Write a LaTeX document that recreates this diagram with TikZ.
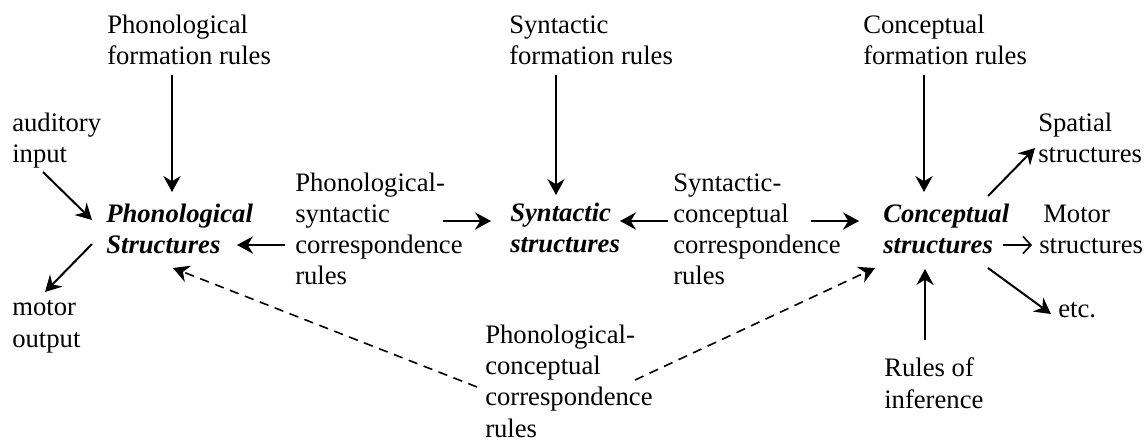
\documentclass[tikz,border=0pt]{standalone}
\usepackage{fontspec}
\setmainfont{Liberation Serif}
\usetikzlibrary{arrows.meta}
\begin{document}
\begin{tikzpicture}[x=0.75pt,y=-0.75pt,
  lbl/.style={anchor=base west,inner sep=0pt,align=left,font=\fontsize{20}{23.3}\selectfont},
  bi/.style={lbl,font=\fontsize{20}{23.3}\selectfont\bfseries\itshape},
  arr/.style={line width=1.5pt,-{Stealth[length=12pt,width=13pt,inset=4pt]}},
  darr/.style={line width=1.2pt,dash pattern=on 7pt off 5pt,-{Stealth[length=12pt,width=13pt,inset=4pt]}},
  oarr/.style={line width=1.2pt,-{Straight Barb[length=6pt,width=13pt,line width=1.2pt]}}]
\useasboundingbox (0,0) rectangle (1148,441);
% labels (anchored at the baseline of their last line)
\node[lbl] (pfr) at (107,65) {Phonological\\formation rules};
\node[lbl] (sfr) at (509,65) {Syntactic\\formation rules};
\node[lbl] (cfr) at (863,65) {Conceptual\\formation rules};
\node[lbl] (aud) at (12,163) {auditory\\input};
\node[bi]  (phs) at (106,254) {Phonological\\Structures};
\node[lbl] (mot) at (12,347) {motor\\output};
\node[lbl] (psc) at (295,285) {Phonological-\\syntactic\\correspondence\\rules};
\node[bi]  (syn) at (510,253) {Syntactic\\structures};
\node[lbl] (scc) at (673,285) {Syntactic-\\conceptual\\correspondence\\rules};
\node[bi]  (con) at (883,254) {Conceptual\\structures};
\node[lbl] (spa) at (1038,163) {Spatial\\structures};
\node[lbl] (mst) at (1039,254) {\hspace{3pt}Motor\\structures};
\node[lbl] (etc) at (1058,317) {etc.};
\node[lbl] (roi) at (884,408) {Rules of\\inference};
\node[lbl] (pcc) at (485,437) {Phonological-\\conceptual\\correspondence\\rules};
% connector end points
\coordinate (a1) at (172,75);   \coordinate (b1) at (172,192);
\coordinate (a2) at (556,75);   \coordinate (b2) at (556,195);
\coordinate (a3) at (924,75);   \coordinate (b3) at (924,192);
\coordinate (a4) at (43,172);   \coordinate (b4) at (92,220);
\coordinate (a5) at (92,244);   \coordinate (b5) at (45,292);
\coordinate (a6) at (285,245);  \coordinate (b6) at (237,245);
\coordinate (a7) at (443,221);  \coordinate (b7) at (491,221);
\coordinate (a8) at (668,221);  \coordinate (b8) at (620,221);
\coordinate (a9) at (811,221);  \coordinate (b9) at (859,221);
\coordinate (a10) at (988,196); \coordinate (b10) at (1035,148);
\coordinate (a11) at (1003,245);\coordinate (b11) at (1032,245);
\coordinate (a12) at (988,268); \coordinate (b12) at (1051,314);
\coordinate (a13) at (925,340); \coordinate (b13) at (925,269);
\coordinate (a14) at (477,387); \coordinate (b14) at (173,268);
\coordinate (a15) at (635,380); \coordinate (b15) at (875,268);
% connectors
\draw[arr] (a1) -- (b1);
\draw[arr] (a2) -- (b2);
\draw[arr] (a3) -- (b3);
\draw[arr] (a4) -- (b4);
\draw[arr] (a5) -- (b5);
\draw[arr] (a6) -- (b6);
\draw[arr] (a7) -- (b7);
\draw[arr] (a8) -- (b8);
\draw[arr] (a9) -- (b9);
\draw[arr] (a10) -- (b10);
\draw[oarr] (a11) -- (b11);
\draw[arr] (a12) -- (b12);
\draw[arr] (a13) -- (b13);
\draw[darr] (a14) -- (b14);
\draw[darr] (a15) -- (b15);
\end{tikzpicture}
\end{document}
